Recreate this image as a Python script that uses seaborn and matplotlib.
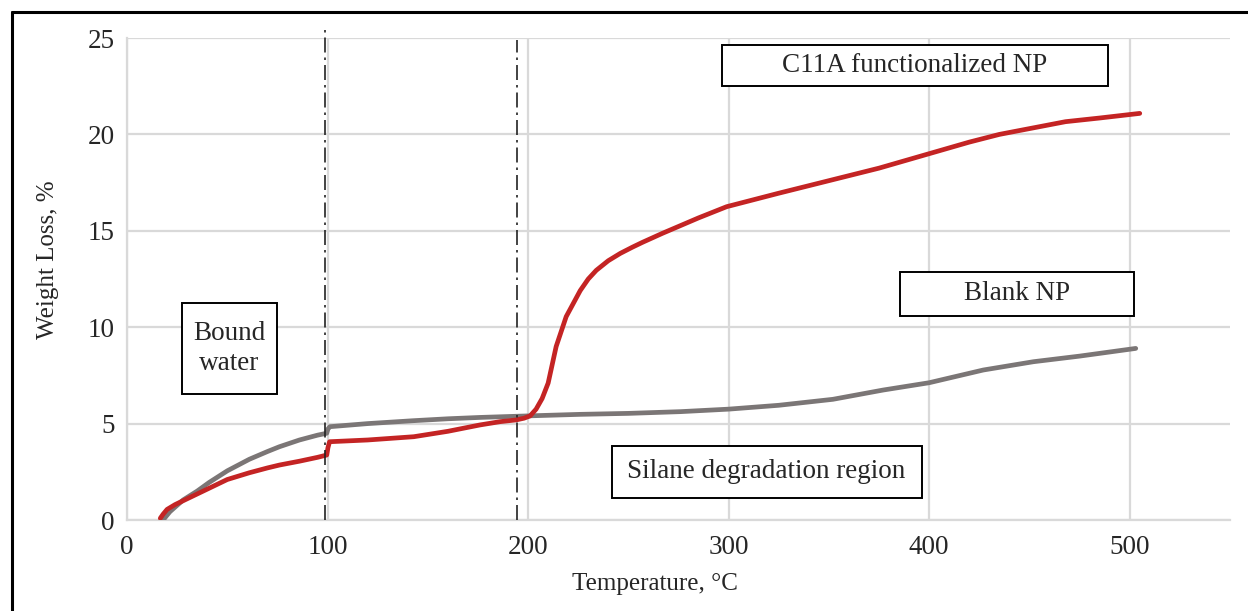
import matplotlib
matplotlib.use("Agg")
import matplotlib.pyplot as plt
import seaborn as sns
import pandas as pd
from matplotlib.patches import Rectangle
from matplotlib.lines import Line2D

# ---------------- data ----------------
c11a_temp = [16.6, 18, 20, 24, 28, 33, 40, 50, 61, 70, 76, 86, 95, 99.6, 100.2, 101,
             120, 143, 160, 176, 186, 194, 198, 201, 204, 207, 210, 214, 219, 226,
             230, 234, 240, 246, 252, 257, 267, 285, 299, 325, 350, 375, 400, 420,
             435, 450, 468, 485, 505]
c11a_loss = [0.09, 0.3, 0.55, 0.8, 1.0, 1.25, 1.6, 2.1, 2.45, 2.7, 2.85, 3.05, 3.25,
             3.37, 3.75, 4.06, 4.15, 4.32, 4.6, 4.93, 5.1, 5.19, 5.28, 5.4, 5.75, 6.3,
             7.1, 9.0, 10.55, 11.9, 12.5, 12.95, 13.45, 13.83, 14.15, 14.4, 14.87,
             15.67, 16.25, 16.95, 17.6, 18.25, 19.0, 19.6, 20.0, 20.3, 20.66, 20.85,
             21.09]

blank_temp = [18, 21.4, 28, 35, 41, 50, 61, 70, 76, 86, 95, 99.6, 100.2, 101.2, 120,
              142.7, 160, 176, 200, 226, 250, 276, 300, 325, 352, 377, 400, 427, 452,
              475, 503]
blank_loss = [0, 0.43, 1.04, 1.5, 1.95, 2.55, 3.15, 3.55, 3.8, 4.15, 4.4, 4.5, 4.72,
              4.84, 5.0, 5.15, 5.25, 5.32, 5.4, 5.48, 5.53, 5.62, 5.75, 5.95, 6.26,
              6.74, 7.12, 7.78, 8.21, 8.5, 8.9]

series_names = ["Blank NP", "C11A functionalized NP"]
series_colors = ["#7B7676", "#C42424"]

x_ticks = [0, 100, 200, 300, 400, 500]
y_ticks = [0, 5, 10, 15, 20, 25]

region_marks = [98.7, 194.4]          # dash-dot boundaries (°C)
region_marks_top = [25.45, 24.9]

box_labels = ["C11A functionalized NP", "Blank NP", "Bound\nwater",
              "Silane degradation region"]
box_x0 = [296.6, 385.3, 27.3, 241.6]
box_x1 = [489.0, 502.0, 74.6, 396.2]
box_y0 = [22.51, 10.60, 6.52, 1.13]
box_y1 = [24.64, 12.85, 11.27, 3.85]

# ---------------- figure ----------------
sns.set_style("white")
plt.rcParams["font.family"] = ["Liberation Serif", "DejaVu Serif"]

W, H = 1248, 611
fig = plt.figure(figsize=(W / 100, H / 100), dpi=100)
ax = fig.add_axes([127 / W, 1 - 520 / H, (1230 - 127) / W, (520 - 38) / H])

df = pd.DataFrame({
    "Temperature": blank_temp + c11a_temp,
    "Loss": blank_loss + c11a_loss,
    "Sample": [series_names[0]] * len(blank_temp) + [series_names[1]] * len(c11a_temp),
})
sns.lineplot(data=df, x="Temperature", y="Loss", hue="Sample",
             hue_order=series_names, palette=series_colors, sort=False,
             estimator=None, linewidth=3.4, legend=False, ax=ax, zorder=3)
for ln in ax.get_lines():
    ln.set_solid_joinstyle("round")
    ln.set_solid_capstyle("round")

ax.set_xlim(0, 550)
ax.set_ylim(0, 25)
ax.set_xticks(x_ticks)
ax.set_yticks(y_ticks)
ax.tick_params(axis="both", length=0, labelsize=19.5)
ax.tick_params(axis="x", pad=11)
ax.tick_params(axis="y", pad=9)
ax.grid(True, color="#D9D9D9", linewidth=1.6)
ax.set_axisbelow(True)
for s in ["top", "right"]:
    ax.spines[s].set_visible(False)
for s in ["left", "bottom"]:
    ax.spines[s].set_color("#D9D9D9")
    ax.spines[s].set_linewidth(1.6)

ax.set_xlabel("Temperature, °C", fontsize=18)
ax.set_ylabel("Weight Loss, %", fontsize=18)
ax.xaxis.set_label_coords((654.5 - 127) / 1103, (520 - 584) / 482)
ax.xaxis.label.set_va("center")
ax.yaxis.set_label_coords((48 - 127) / 1103, (520 - 260) / 482)
ax.yaxis.label.set_va("center")

for xm, yt in zip(region_marks, region_marks_top):
    ax.plot([xm, xm], [0, yt], color="#222222", linewidth=1.2,
            linestyle=(0, (9, 3, 1.5, 3)), clip_on=False, zorder=4)

for lab, x0, x1, y0, y1 in zip(box_labels, box_x0, box_x1, box_y0, box_y1):
    ax.add_patch(Rectangle((x0, y0), x1 - x0, y1 - y0, facecolor="white",
                           edgecolor="black", linewidth=1.4, zorder=5))
    ax.text((x0 + x1) / 2, (y0 + y1) / 2, lab, ha="center", va="center",
            fontsize=19.5, zorder=6, linespacing=1.3)

# outer frame (left and top edges)
fx = 12 / W
fy = 1 - 12 / H
fig.add_artist(Line2D([fx, fx], [0, fy], color="black", linewidth=2.2))
fig.add_artist(Line2D([fx, 1], [fy, fy], color="black", linewidth=2.2))

fig.savefig("out.png", dpi=100, facecolor="white")
